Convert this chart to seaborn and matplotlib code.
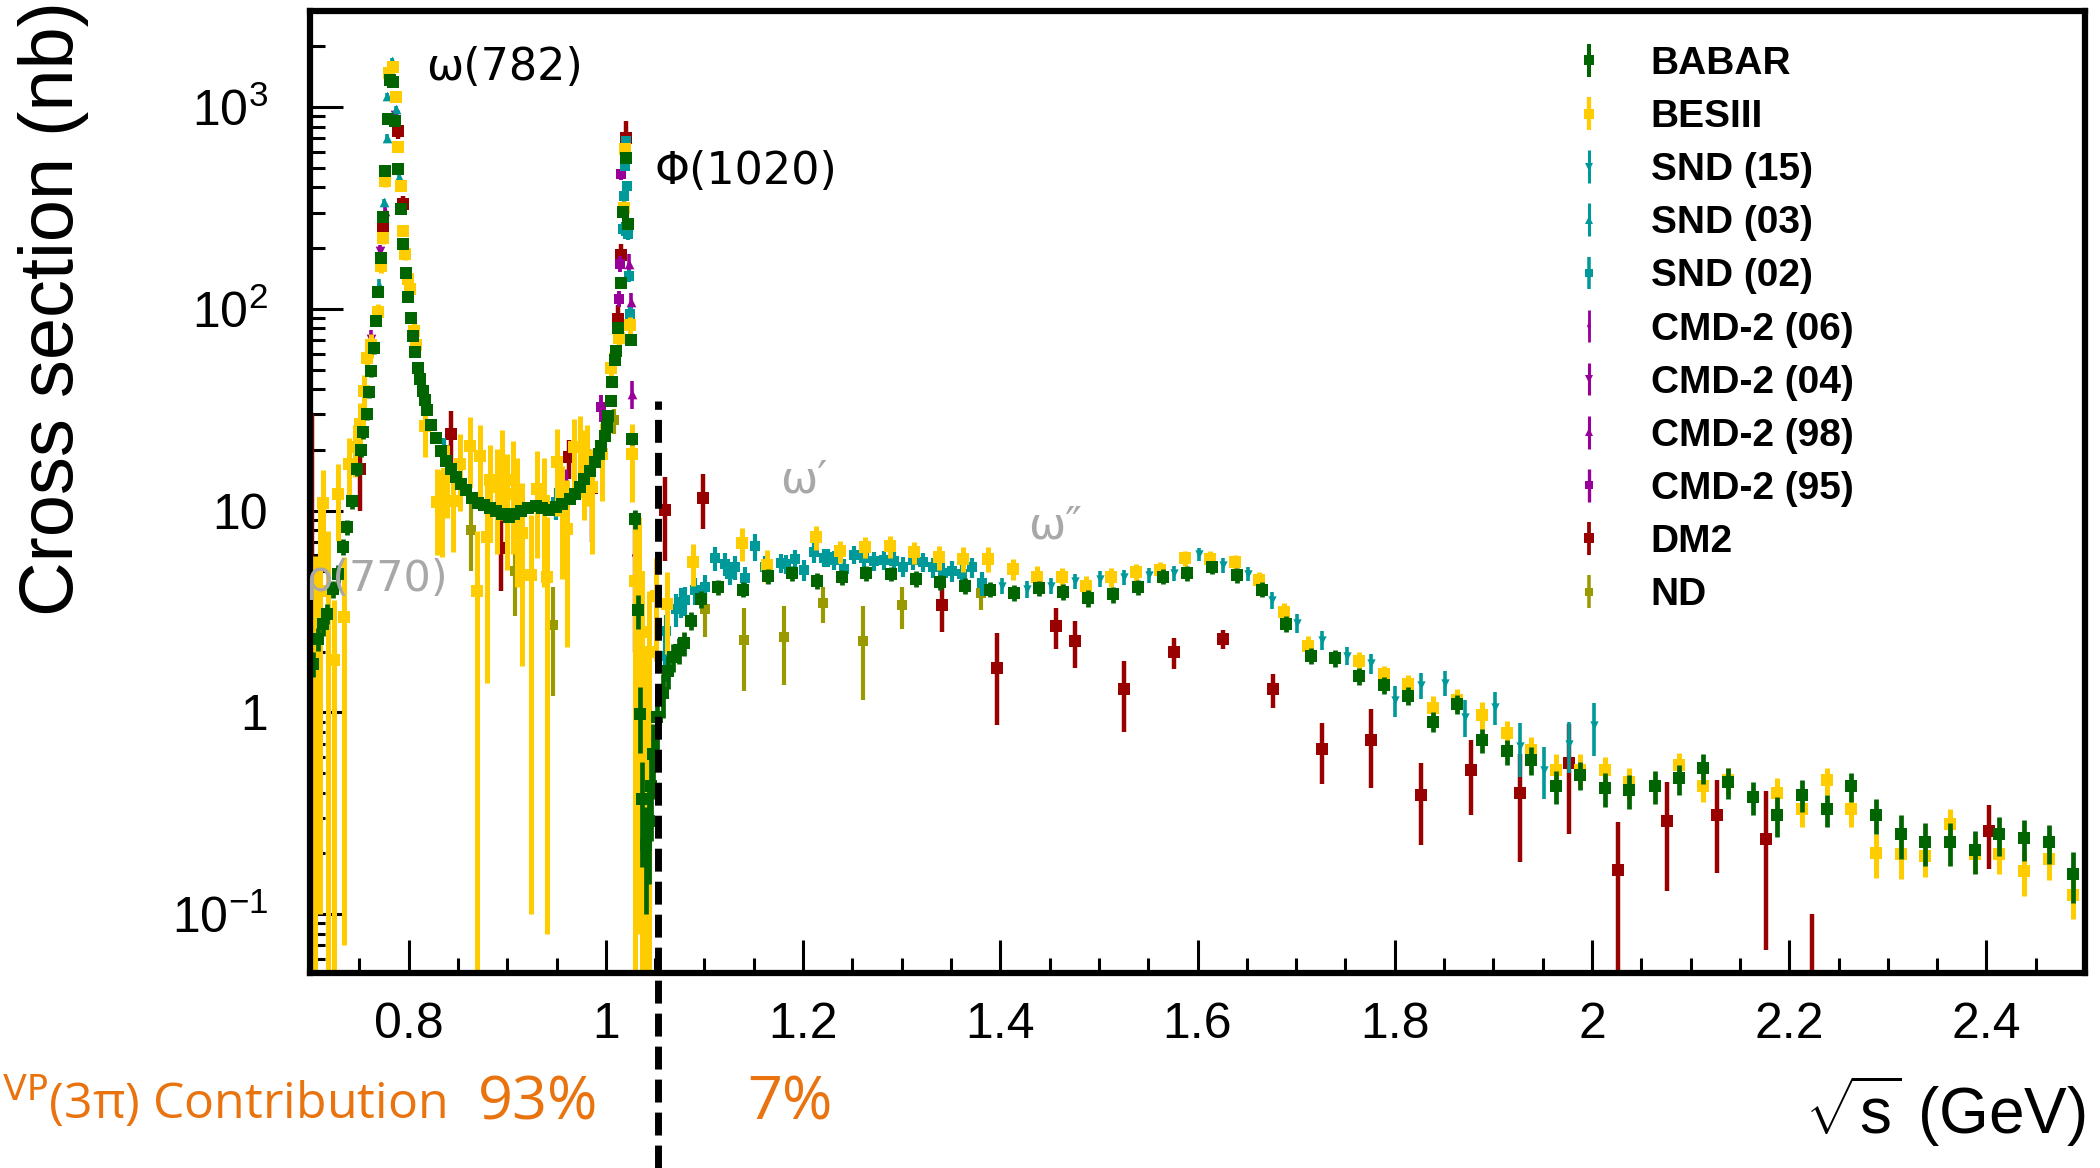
import matplotlib
matplotlib.use("Agg")
import matplotlib.pyplot as plt
import matplotlib.transforms as mtransforms
from matplotlib.ticker import FixedLocator, FixedFormatter, NullFormatter, LogLocator, MultipleLocator
from matplotlib.container import ErrorbarContainer
from matplotlib.legend_handler import HandlerErrorbar
from matplotlib.font_manager import FontProperties
import seaborn as sns
import numpy as np

# ---------------- data (sqrt(s) in GeV, cross section in nb) ----------------
babar_x = [0.703, 0.708, 0.7135, 0.7176, 0.723, 0.728, 0.733, 0.738, 0.743, 0.748, 0.752, 0.754, 0.758, 0.7595, 0.762, 0.7645,
           0.767, 0.7694, 0.7718, 0.7745, 0.7765, 0.779, 0.7813, 0.784, 0.7864, 0.7897, 0.792, 0.7948, 0.797, 0.799, 0.8023, 0.8044, 0.8067,
           0.8093, 0.812, 0.8145, 0.817, 0.819, 0.823, 0.828, 0.8328, 0.838, 0.843, 0.8484, 0.853, 0.858, 0.864, 0.870, 0.876, 0.883, 0.8887,
           0.8948, 0.9015, 0.907, 0.914, 0.921, 0.929, 0.9354, 0.942, 0.949,
           0.9557, 0.9635, 0.969, 0.9737, 0.978, 0.9838, 0.989, 0.993, 0.9954, 0.999, 1.0008, 1.0022, 1.005, 1.0066, 1.009, 1.010, 1.012,
           1.0152, 1.0175, 1.0203, 1.0226, 1.0253,
           1.0270, 1.0297, 1.0326, 1.0346, 1.0370, 1.0410, 1.0437, 1.0455, 1.0482, 1.0520, 1.0580, 1.0635, 1.068, 1.0738, 1.0793, 1.0861,
           1.0966, 1.1137,
           1.1392, 1.1641, 1.189, 1.214, 1.2394, 1.2643, 1.2893, 1.3143, 1.3392, 1.3646, 1.3891, 1.414, 1.439, 1.464, 1.489, 1.5143, 1.5393,
           1.5647, 1.5896, 1.6146, 1.640, 1.6649, 1.6899, 1.7149, 1.7398,
           1.7636, 1.7886, 1.813, 1.8386, 1.8636, 1.8886, 1.9136, 1.938, 1.963, 1.988, 2.013, 2.038, 2.0634, 2.088, 2.113, 2.138, 2.163,
           2.188, 2.213, 2.238, 2.263, 2.288, 2.313, 2.338, 2.363, 2.388, 2.413, 2.438, 2.463, 2.488]
babar_y = [1.74, 2.31, 2.75, 3.08, 4.1, 4.86, 6.6, 8.3, 11.1, 16, 20, 24.5, 30, 38.7, 49, 64,
           87, 121, 179, 284, 482, 873, 1362, 1327, 851, 493, 313, 210, 151, 115, 90, 73, 61,
           51, 44.7, 39, 35.4, 31.6, 26.7, 22.9, 19.8, 17.7, 16.1, 14.6, 13.6, 12.6, 11.6, 10.9, 10.6, 10.3, 10.0,
           9.6, 9.3, 9.6, 9.9, 10.3, 10.5, 10.3, 10.1, 10.4,
           10.8, 11.4, 12.1, 13.1, 14.4, 15.8, 17.4, 19.1, 21, 23.3, 25.9, 29.6, 35.1, 43.3, 55.5, 61.6, 80,
           134, 301, 563, 264, 70,
           22.6, 9.1, 3.2, 0.98, 0.37, 0.22, 0.29, 0.43, 0.62, 0.95, 1.24, 1.61, 1.88, 2.03, 2.2, 2.85,
           3.65, 4.17,
           4.06, 4.73, 4.9, 4.5, 4.68, 4.9, 4.86, 4.59, 4.42, 4.25, 4.06, 3.91, 4.14, 3.97, 3.68, 3.84, 4.17,
           4.71, 4.9, 5.25, 4.77, 4.06, 2.75, 1.91, 1.86,
           1.51, 1.36, 1.21, 0.90, 1.10, 0.73, 0.64, 0.58, 0.43, 0.49, 0.42, 0.41, 0.43, 0.47, 0.53, 0.45, 0.38,
           0.31, 0.39, 0.33, 0.43, 0.31, 0.248, 0.227, 0.227, 0.207, 0.248, 0.238, 0.227, 0.158]
babar_err = [0.25, 0.3, 0.35, 0.35, 0.4, 0.5, 0.6, 0.7, 0.9, 1.2, 1.5, 1.8, 2, 2.5, 3, 4,
             5, 7, 9, 12, 18, 30, 40, 40, 30, 18, 12, 9, 7, 5, 4, 3, 3,
             2.5, 2, 2, 1.8, 1.5, 1.3, 1.1, 1, 0.9, 0.8, 0.7, 0.7, 0.6, 0.6, 0.5, 0.5, 0.5, 0.5,
             0.5, 0.5, 0.5, 0.5, 0.5, 0.5, 0.5, 0.5, 0.5,
             0.5, 0.6, 0.6, 0.6, 0.7, 0.8, 0.9, 1, 1, 1.2, 1.3, 1.5, 1.8, 2.2, 3, 3, 4,
             6, 12, 20, 10, 4,
             1.5, 1, 0.6, 0.35, 0.2, 0.12, 0.15, 0.2, 0.25, 0.3, 0.3, 0.3, 0.3, 0.3, 0.3, 0.3,
             0.35, 0.35,
             0.35, 0.4, 0.4, 0.4, 0.4, 0.4, 0.4, 0.4, 0.4, 0.4, 0.35, 0.35, 0.35, 0.35, 0.35, 0.35, 0.35,
             0.4, 0.4, 0.4, 0.4, 0.35, 0.25, 0.18, 0.18,
             0.15, 0.13, 0.12, 0.1, 0.12, 0.1, 0.09, 0.09, 0.08, 0.08, 0.08, 0.08, 0.08, 0.08, 0.09, 0.08, 0.07,
             0.07, 0.07, 0.06, 0.07, 0.06, 0.06, 0.055, 0.055, 0.05, 0.055, 0.055, 0.05, 0.045]

besiii_x = [0.7007, 0.7055, 0.7100, 0.7137, 0.7185, 0.7240, 0.7288, 0.7350, 0.7400, 0.7460, 0.7505, 0.7550, 0.7580, 0.7620,
            0.7694, 0.7718, 0.7745, 0.7765, 0.7797, 0.7847, 0.7874, 0.7897, 0.7920, 0.7948, 0.7965, 0.7990, 0.8017, 0.8050, 0.8077,
            0.817, 0.8284, 0.8335, 0.8386, 0.8455, 0.8523, 0.8625, 0.8693, 0.872, 0.8795, 0.883, 0.89, 0.895, 0.900, 0.906, 0.910,
            0.915, 0.9243, 0.930, 0.937, 0.9405, 0.9507, 0.9557, 0.961, 0.9675, 0.974, 0.9777, 0.981, 0.9862, 0.9963, 1.005,
            1.0134, 1.0184, 1.0194, 1.0248, 1.0268, 1.0300, 1.0336, 1.0370, 1.0405, 1.0440, 1.0505, 1.0620, 1.0888,
            1.138, 1.1633, 1.2128, 1.2378, 1.2628, 1.2877, 1.3127, 1.3377, 1.3626, 1.3871, 1.4124, 1.4374, 1.4623, 1.4872,
            1.5121, 1.5375, 1.5624, 1.5873, 1.6123, 1.6377, 1.6626, 1.6876, 1.7125,
            1.7636, 1.7886, 1.813, 1.8386, 1.8636, 1.8886, 1.9136, 1.938, 1.963, 1.988, 2.013, 2.038, 2.088, 2.113, 2.138,
            2.188, 2.213, 2.238, 2.263, 2.288, 2.313, 2.338, 2.363, 2.388, 2.413, 2.438, 2.463, 2.488]
besiii_y = [1.2, 3.0, 5.5, 10.9, 4.0, 1.82, 12.1, 2.97, 17, 20.6, 27, 39, 57, 66,
            96, 163, 224, 429, 1486, 1575, 1118, 632, 408, 244, 187, 141, 126, 78, 66,
            26.4, 11.0, 10.9, 15.2, 11.2, 17, 21, 4.0, 18.7, 7.4, 14.1, 13.1, 17, 12.1, 14.1, 11.2,
            7.7, 4.8, 12.8, 11.2, 4.68, 17.4, 10.6, 8.1, 20.6, 20.6, 17, 18.5, 13.1, 19.1, 51,
            72, 318, 620, 83, 19, 4.5, 4.68, 2.5, 1.0, 2.0, 3.79, 3.45, 5.55,
            6.9, 5.35, 7.38, 6.29, 6.59, 6.64, 6.22, 5.87, 5.77, 5.77, 5.14, 4.71, 4.71, 4.22,
            4.68, 4.95, 5.05, 5.8, 5.77, 5.55, 4.54, 3.14, 2.14,
            1.79, 1.55, 1.38, 1.05, 1.15, 0.97, 0.79, 0.65, 0.52, 0.52, 0.52, 0.45, 0.55, 0.43, 0.46,
            0.40, 0.33, 0.46, 0.33, 0.20, 0.199, 0.193, 0.28, 0.199, 0.198, 0.163, 0.188, 0.124]
besiii_err = [1.19, 2.97, 5.4, 5, 3.96, 1.8, 5, 2.9, 6, 6, 7, 8, 8, 9,
              10, 12, 15, 25, 60, 60, 50, 30, 20, 15, 12, 10, 10, 8, 8,
              8, 5, 5, 6, 5, 7, 8, 3.96, 8, 6, 7, 7, 8, 7, 8, 7,
              6, 4.7, 7, 7, 4.6, 8, 6, 6, 8, 9, 8, 8, 7, 8, 10,
              8, 25, 40, 8, 8, 4.45, 4.6, 2.48, 0.99, 1.98, 2, 1.5, 1.3,
              1.3, 1.0, 1.0, 0.8, 0.8, 0.8, 0.8, 0.8, 0.8, 0.8, 0.6, 0.6, 0.5, 0.5,
              0.5, 0.5, 0.5, 0.5, 0.5, 0.5, 0.4, 0.35, 0.25,
              0.2, 0.15, 0.15, 0.15, 0.15, 0.15, 0.12, 0.1, 0.1, 0.1, 0.08, 0.08, 0.08, 0.07, 0.07,
              0.07, 0.06, 0.07, 0.06, 0.05, 0.05, 0.04, 0.05, 0.04, 0.04, 0.04, 0.04, 0.03]

snd15_x = [1.4013, 1.4266, 1.451, 1.4755, 1.5008, 1.5258, 1.5512, 1.576, 1.6014, 1.6262, 1.6512, 1.676, 1.701,
           1.726, 1.7515, 1.776, 1.8006, 1.8262, 1.8512, 1.8714, 1.9012, 1.9268, 1.9517, 1.9768, 2.0018]
snd15_y = [4.25, 4.09, 4.25, 4.47, 4.59, 4.68, 4.77, 4.9, 6.1, 5.35, 4.86, 3.6, 2.78,
           2.29, 1.91, 1.75, 1.15, 1.36, 1.40, 0.95, 1.06, 0.68, 0.52, 0.70, 0.86]
snd15_err = [0.4, 0.4, 0.4, 0.4, 0.4, 0.4, 0.4, 0.4, 0.45, 0.45, 0.4, 0.35, 0.3,
             0.25, 0.2, 0.2, 0.2, 0.2, 0.2, 0.2, 0.2, 0.2, 0.15, 0.2, 0.25]

snd03_x = [0.7700, 0.7752, 0.7780, 0.7786, 0.7830, 0.7874, 0.7904]
snd03_y = [132, 337, 707, 1140, 1700, 979, 449]
snd03_err = [8, 15, 30, 40, 60, 40, 20]

snd02_x = [0.8360, 0.9490, 0.9800, 1.0134, 1.0170, 1.0184, 1.0196, 1.0203, 1.0213, 1.0225, 1.0237, 1.0248,
           1.0600, 1.0611, 1.0707, 1.0760, 1.0805, 1.0905, 1.1009, 1.1110, 1.1204, 1.1259, 1.1313, 1.1413, 1.1517,
           1.1612, 1.1780, 1.1826, 1.1916, 1.2011, 1.2111, 1.2210, 1.2256, 1.2315, 1.2415, 1.2515, 1.2618, 1.2718,
           1.2822, 1.2918, 1.3017, 1.3117, 1.3216, 1.3321, 1.3420, 1.3515, 1.3614, 1.3714, 1.3818]
snd02_y = [20, 11, 19, 72, 250, 364, 513, 682, 408, 235, 146, 94,
           1.91, 2.52, 3.26, 3.52, 3.6, 4.02, 4.17, 5.83, 5.45, 4.86, 5.24, 4.64, 6.64,
           5.28, 5.49, 5.45, 5.77, 5.09, 6.22, 5.83, 5.87, 5.70, 5.14, 6.05, 5.83, 5.61,
           5.70, 5.61, 5.28, 5.70, 5.55, 5.25, 4.9, 5.0, 4.86, 5.25, 4.37]
snd02_err = [3, 2, 3, 6, 20, 25, 30, 40, 25, 15, 10, 8,
             0.5, 0.5, 0.6, 0.6, 0.6, 0.6, 0.6, 0.8, 0.7, 0.6, 0.7, 0.6, 1.0,
             0.7, 0.6, 0.6, 0.6, 0.6, 0.7, 0.6, 0.6, 0.6, 0.6, 0.6, 0.6, 0.6,
             0.6, 0.6, 0.6, 0.6, 0.6, 0.6, 0.6, 0.6, 0.6, 0.6, 0.6]

cmd06_x = [0.9600, 1.0285]
cmd06_y = [14, 6.0]
cmd06_err = [2, 4]

cmd04_x = [0.7614, 0.7706, 0.7860]
cmd04_y = [71, 193, 910]
cmd04_err = [8, 15, 50]

cmd98_x = [0.7757, 0.7808, 1.0240, 1.0251, 1.0265]
cmd98_y = [307, 1370, 167, 108, 37.8]
cmd98_err = [20, 60, 20, 12, 6]

cmd95_x = [0.9947, 1.0134, 1.0145, 1.0152]
cmd95_y = [32.5, 112, 167, 466]
cmd95_err = [5, 10, 15, 30]

dm2_x = [0.702, 0.7505, 0.774, 0.7897, 0.7942, 0.8435, 0.894, 0.963, 0.986, 1.012, 1.0152, 1.0203, 1.060, 1.0984,
         1.3409, 1.3962, 1.4566, 1.4761, 1.5258, 1.5765, 1.6263, 1.6761, 1.726, 1.776, 1.8262, 1.8768, 1.9268, 1.9764,
         2.0264, 2.0764, 2.1264, 2.1763, 2.223, 2.4027]
dm2_y = [2.0, 16, 254, 759, 331, 24, 6.5, 18.4, 13, 89, 185, 700, 10.1, 11.6,
         3.39, 1.66, 2.67, 2.25, 1.30, 1.99, 2.31, 1.30, 0.66, 0.73, 0.39, 0.52, 0.40, 0.56,
         0.165, 0.29, 0.31, 0.236, 0.03, 0.258]
dm2_err = [28, 6, 30, 60, 30, 7, 2.5, 4, 6, 15, 25, 150, 4.5, 3.5,
           0.9, 0.8, 0.6, 0.6, 0.5, 0.35, 0.25, 0.25, 0.22, 0.31, 0.17, 0.21, 0.22, 0.31,
           0.12, 0.16, 0.15, 0.17, 0.07, 0.09]

nd_x = [0.7037, 0.863, 0.908, 0.9467, 1.008, 1.0452, 1.1001, 1.1397, 1.1805, 1.2203, 1.2608, 1.3007, 1.3809]
nd_y = [1.7, 8, 5, 2.7, 28, 0.6, 3.26, 2.27, 2.36, 3.48, 2.25, 3.39, 3.91]
nd_err = [0.8, 3, 2, 1.5, 4, 0.5, 0.9, 1.0, 1.0, 0.7, 1.1, 0.8, 0.7]

legend_labels = ["BABAR", "BESIII", "SND (15)", "SND (03)", "SND (02)", "CMD-2 (06)",
                 "CMD-2 (04)", "CMD-2 (98)", "CMD-2 (95)", "DM2", "ND"]
x_ticks = [0.8, 1.0, 1.2, 1.4, 1.6, 1.8, 2.0, 2.2, 2.4]
x_tick_labels = ["0.8", "1", "1.2", "1.4", "1.6", "1.8", "2", "2.2", "2.4"]
y_ticks = [0.1, 1, 10, 100, 1000]
y_tick_labels = [r"$10^{-1}$", "1", "10", r"$10^{2}$", r"$10^{3}$"]
split_energy = 1.053
share_low = "93%"
share_high = "7%"

# ---------------- style ----------------
sns.set_theme(style="ticks")
plt.rcParams.update({
    "font.family": ["Liberation Sans", "DejaVu Sans"],
    "mathtext.fontset": "custom",
    "mathtext.rm": "Liberation Sans",
    "mathtext.it": "Liberation Sans:italic",
    "mathtext.bf": "Liberation Sans:bold",
    "axes.linewidth": 4.5,
    "axes.edgecolor": "black",
    "axes.facecolor": "white",
    "figure.facecolor": "white",
    "text.color": "black",
    "axes.labelcolor": "black",
    "xtick.color": "black",
    "ytick.color": "black",
    "xtick.labelcolor": "black",
    "ytick.labelcolor": "black",
})

GREEN = "#006400"
GOLD = "#ffcc00"
TEAL = "#009999"
PURPLE = "#990099"
RED = "#990000"
OLIVE = "#999900"
ORANGE = "#e8730f"
GRAY = "#a8a8a8"

fig = plt.figure(figsize=(21, 11.68), dpi=100)
ax = fig.add_axes([0.1476, 0.167, 0.8453, 0.8236])
ax.set_yscale("log")

series = {
    "ND": (nd_x, nd_y, nd_err, OLIVE, "s", 7, 3.0, 2.0),
    "DM2": (dm2_x, dm2_y, dm2_err, RED, "s", 8, 3.2, 2.1),
    "CMD-2 (06)": (cmd06_x, cmd06_y, cmd06_err, PURPLE, "d", 4.5, 2.4, 2.2),
    "CMD-2 (04)": (cmd04_x, cmd04_y, cmd04_err, PURPLE, "v", 7, 2.6, 2.2),
    "CMD-2 (98)": (cmd98_x, cmd98_y, cmd98_err, PURPLE, "^", 7, 2.6, 2.2),
    "CMD-2 (95)": (cmd95_x, cmd95_y, cmd95_err, PURPLE, "s", 7, 2.8, 2.2),
    "SND (02)": (snd02_x, snd02_y, snd02_err, TEAL, "s", 7.5, 3.0, 2.4),
    "SND (03)": (snd03_x, snd03_y, snd03_err, TEAL, "^", 7, 2.6, 2.4),
    "SND (15)": (snd15_x, snd15_y, snd15_err, TEAL, "v", 6, 2.6, 2.4),
    "BESIII": (besiii_x, besiii_y, besiii_err, GOLD, "s", 8, 3.6, 2.6),
    "BABAR": (babar_x, babar_y, babar_err, GREEN, "s", 8, 3.4, 2.8),
}

handles = {}
for name, (xs, ys, es, col, mk, ms, lw, z) in series.items():
    ax.errorbar(xs, ys, yerr=es, fmt="none", ecolor=col, elinewidth=lw, capsize=0, zorder=z)
    sns.scatterplot(x=xs, y=ys, ax=ax, color=col, marker=mk, s=ms ** 2, linewidth=0,
                    zorder=z + 0.05, legend=False)
    handles[name] = ax.errorbar([np.nan], [np.nan], yerr=[np.nan], fmt=mk, color=col, ms=ms * 0.85,
                                mew=0, elinewidth=lw * 0.85, capsize=0)

ax.set_xlim(0.70, 2.50)
ax.set_ylim(0.051, 3000)

# ticks
ax.xaxis.set_major_locator(FixedLocator(x_ticks))
ax.xaxis.set_major_formatter(FixedFormatter(x_tick_labels))
ax.xaxis.set_minor_locator(MultipleLocator(0.05))
ax.yaxis.set_major_locator(FixedLocator(y_ticks))
ax.yaxis.set_major_formatter(FixedFormatter(y_tick_labels))
ax.yaxis.set_minor_locator(LogLocator(base=10, subs=np.arange(2, 10)))
ax.yaxis.set_minor_formatter(NullFormatter())
ax.tick_params(axis="both", which="both", direction="in", top=False, right=False,
               bottom=True, left=True, width=2.2, color="black", labelcolor="black")
ax.tick_params(which="major", length=24)
ax.tick_params(which="minor", length=11)
ax.tick_params(axis="y", which="major", pad=30, labelsize=36)
ax.tick_params(axis="x", which="major", pad=21, labelsize=36)
for sp in ax.spines.values():
    sp.set_zorder(5)
    sp.set_linewidth(4.5)
    sp.set_color("black")
ax.grid(False)

# dashed separator
trans = mtransforms.blended_transform_factory(ax.transData, ax.transAxes)
ax.plot([split_energy, split_energy], [-0.203, 0.5946], transform=trans, clip_on=False,
        color="black", lw=5.0, ls=(0, (3.3, 1.45)), zorder=10)

# resonance labels
ann = dict(family="DejaVu Sans", va="center", ha="left", clip_on=False, zorder=12)
ax.text(0.8177, 1580, "ω(782)", fontsize=32, color="black", **ann)
ax.text(1.049, 479, "Φ(1020)", fontsize=32, color="black", **ann)
ax.text(0.6952, 4.6, "ρ(770)", fontsize=31, color=GRAY, **ann)
ax.text(1.177, 14.2, "ω′", fontsize=32, color=GRAY, **ann)
ax.text(1.4286, 8.4, "ω″", fontsize=32, color=GRAY, **ann)

# legend
order = ["BABAR", "BESIII", "SND (15)", "SND (03)", "SND (02)", "CMD-2 (06)",
         "CMD-2 (04)", "CMD-2 (98)", "CMD-2 (95)", "DM2", "ND"]
leg = ax.legend([handles[n] for n in order], legend_labels, loc="upper left",
                bbox_to_anchor=(0.7495, 0.9606), bbox_transform=fig.transFigure,
                frameon=False, prop=FontProperties(family="Liberation Sans", weight="bold", size=28),
                handlelength=0.79, handletextpad=1.18, labelspacing=0.44, borderpad=0, borderaxespad=0,
                handler_map={ErrorbarContainer: HandlerErrorbar(xerr_size=0.42)})
leg.set_zorder(20)
for t in leg.get_texts():
    t.set_color("black")

# axis titles
fig.text(0.0255, 0.7363, "Cross section (nb)", rotation=90, fontsize=54.5, ha="center", va="center",
         color="black")
fig.text(0.993, 0.0488, r"$\sqrt{\mathrm{s}}$ (GeV)", ha="right", va="center", fontsize=46, color="black")

# contribution annotation
fig.text(0.2124, 0.0415, r"$a_{\mu}^{\mathrm{HVP}}$(3π) Contribution", ha="right", va="baseline",
         fontsize=36, color=ORANGE, family="Open Sans", math_fontfamily="dejavusans")
fig.text(0.2563, 0.0415, share_low, ha="center", va="baseline", fontsize=44, color=ORANGE, family="Open Sans")
fig.text(0.376, 0.0415, share_high, ha="center", va="baseline", fontsize=44, color=ORANGE, family="Open Sans")

fig.savefig("out.png", dpi=100)
